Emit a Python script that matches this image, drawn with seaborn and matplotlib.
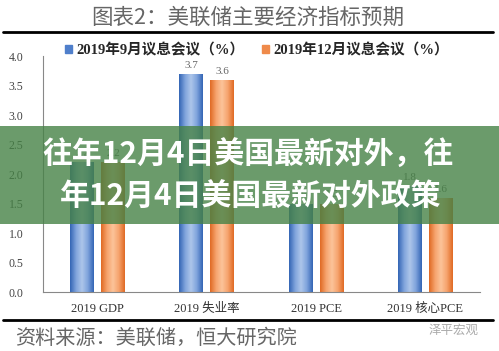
import numpy as np
import pandas as pd
import seaborn as sns
import matplotlib.pyplot as plt
from matplotlib.colors import LinearSegmentedColormap
from matplotlib.lines import Line2D
from matplotlib.patches import Rectangle

# 数据
categories = ["2019 GDP", "2019 失业率", "2019 PCE", "2019 核心PCE"]
series = ["2019年9月议息会议（%）", "2019年12月议息会议（%）"]
sep_vals = [2.2, 3.7, 1.5, 1.8]
dec_vals = [2.2, 3.6, 1.5, 1.6]

df = pd.DataFrame({
    "指标": categories * 2,
    "会议": [series[0]] * 4 + [series[1]] * 4,
    "值": sep_vals + dec_vals,
})

sns.set_style("white")
plt.rcParams["font.family"] = ["Liberation Serif", "Noto Sans CJK SC", "DejaVu Sans"]

fig = plt.figure(figsize=(4.99, 3.51), dpi=100)
ax = fig.add_axes([0.086, 0.168, 0.876, 0.672])

blue = "#4f7fcb"
orange = "#ef8a4a"
sns.barplot(data=df, x="指标", y="值", hue="会议", palette=[blue, orange],
            width=0.57, gap=0.23, ax=ax, legend=False, errorbar=None)

# 渐变填充
cmaps = [
    LinearSegmentedColormap.from_list("b", ["#3466b5", "#7fa3dc", "#adc6ea", "#7fa3dc", "#3466b5"]),
    LinearSegmentedColormap.from_list("o", ["#e06a25", "#f6a36d", "#fcc49a", "#f6a36d", "#e06a25"]),
]
grad = np.linspace(0, 1, 64).reshape(1, -1)
for i, cont in enumerate(ax.containers):
    for bar in cont:
        x0, y0 = bar.get_x(), bar.get_y()
        w, h = bar.get_width(), bar.get_height()
        im = ax.imshow(grad, cmap=cmaps[i], aspect="auto",
                       extent=[x0, x0 + w, y0, y0 + h], zorder=2)
        im.set_clip_path(bar)
    ax.bar_label(cont, fmt="%.1f", padding=3, fontsize=8, color="#666666")

ax.set_xlim(-0.5, 3.5)
ax.set_ylim(0, 4.0)
ax.set_yticks(np.arange(0, 4.01, 0.5))
ax.set_yticklabels([f"{v:.1f}" for v in np.arange(0, 4.01, 0.5)], fontsize=8.5, color="#444444")
ax.set_xlabel("")
ax.set_ylabel("")
ax.set_xticks(range(4))
ax.set_xticklabels(categories, fontsize=9, color="#333333")
ax.set_xticks([0.5, 1.5, 2.5, 3.5], minor=True)
ax.tick_params(axis="x", which="major", length=0, pad=8)
ax.tick_params(axis="x", which="minor", length=4, direction="out", color="#888888")
ax.tick_params(axis="y", length=4, direction="out", color="#888888", pad=10)
for s in ["top", "right"]:
    ax.spines[s].set_visible(False)
for s in ["left", "bottom"]:
    ax.spines[s].set_color("#888888")
    ax.spines[s].set_linewidth(0.8)

# 图例
handles = [Rectangle((0, 0), 1, 1, color=blue), Rectangle((0, 0), 1, 1, color=orange)]
fig.legend(handles, series, loc="center", bbox_to_anchor=(0.515, 0.857), ncol=2,
           frameon=False, prop={"weight": "bold", "size": 10.5},
           handlelength=0.5, handleheight=0.5, handletextpad=0.3, columnspacing=1.2)

# 标题与线
fig.text(0.497, 0.948, "图表2：美联储主要经济指标预期", ha="center", va="center",
         fontsize=15.5, color="#666666", weight="light", family=["Noto Sans CJK SC"])
fig.add_artist(Line2D([0.006, 0.988], [0.909, 0.909], color="black", lw=2))
fig.add_artist(Line2D([0.006, 0.988], [0.088, 0.088], color="black", lw=2))

# 来源
fig.text(0.03, 0.035, "资料来源：美联储，恒大研究院", ha="left", va="center",
         fontsize=14.5, color="#666666", style="italic", weight="light",
         family=["Noto Sans CJK SC"])
fig.text(0.96, 0.06, "泽平宏观", ha="right", va="center",
         fontsize=9, color="#aaaaaa", family=["Noto Sans CJK SC"])

# 覆盖横幅
fig.add_artist(Rectangle((0, 0.362), 1, 0.279, transform=fig.transFigure,
                         facecolor="#468246", alpha=0.8, edgecolor="none", zorder=5))
fig.text(0.497, 0.558, "往年12月4日美国最新对外，往", ha="center", va="center",
         fontsize=21.5, color="white", weight="bold", family=["Noto Sans CJK SC"], zorder=6)
fig.text(0.503, 0.439, "年12月4日美国最新对外政策", ha="center", va="center",
         fontsize=21.5, color="white", weight="bold", family=["Noto Sans CJK SC"], zorder=6)

fig.savefig("out.png", dpi=100)
